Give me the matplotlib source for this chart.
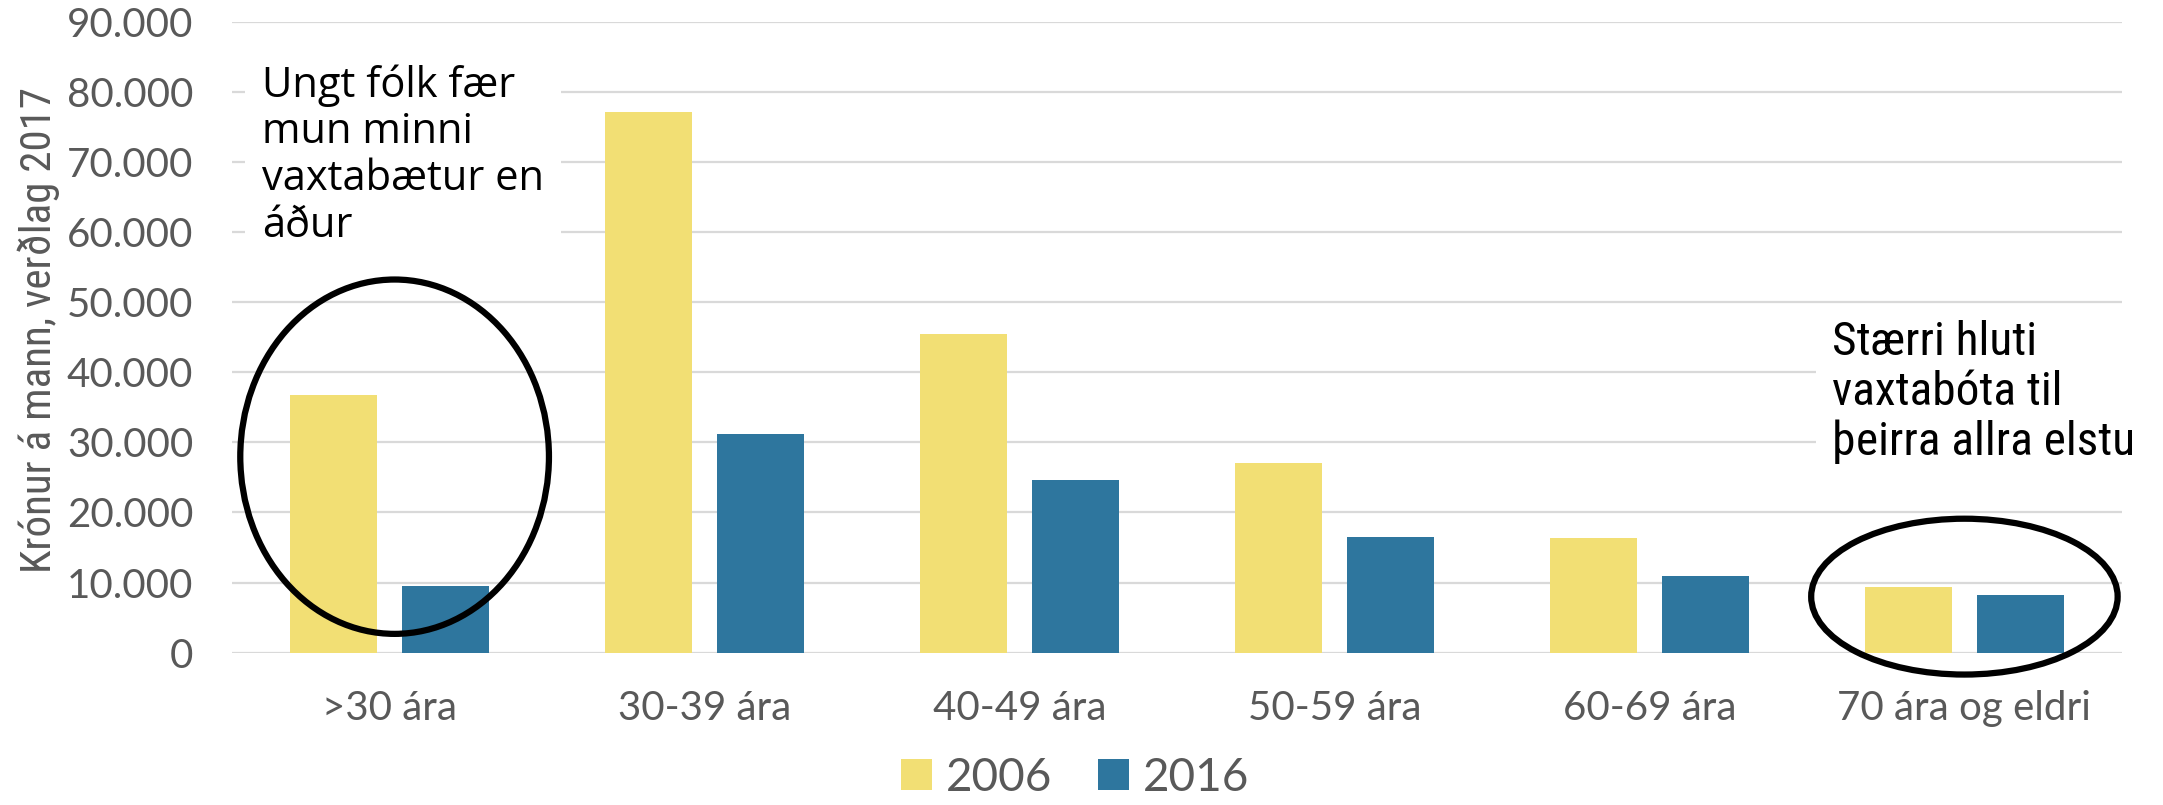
"""
Vaxtabætur eftir aldri, 2006 og 2016 (krónur á mann, verðlag 2017)
"""
import numpy as np
import matplotlib.pyplot as plt
from matplotlib import font_manager
from matplotlib.patches import Ellipse
from matplotlib.ticker import FuncFormatter

# Data
categories = ['>30 ára', '30-39 ára', '40-49 ára', '50-59 ára', '60-69 ára', '70 ára og eldri']
values_2006 = [36800, 77100, 45400, 27100, 16300, 9300]
values_2016 = [9500, 31200, 24600, 16500, 10950, 8200]
series_labels = ['2006', '2016']

YELLOW = '#F2DF74'
BLUE = '#2E769E'
GREY_TEXT = '#595959'
GRID = '#D9D9D9'

installed = {f.name for f in font_manager.fontManager.ttflist}


def pick(*names):
    for n in names:
        if n in installed:
            return n
    return 'DejaVu Sans'


TICK_FONT = pick('Lato', 'Open Sans')
NOTE_FONT = pick('Open Sans', 'Noto Sans')
NARROW_FONT = pick('Liberation Sans Narrow', 'Roboto Condensed', 'Open Sans')

fig = plt.figure(figsize=(21.63, 8.05), dpi=100)
ax = fig.add_axes([0.1073, 0.1893, 0.8737, 0.7834])

x = np.arange(len(categories))
width = 0.276
offset = 0.177
ax.bar(x - offset, values_2006, width, color=YELLOW, label=series_labels[0], zorder=2)
ax.bar(x + offset, values_2016, width, color=BLUE, label=series_labels[1], zorder=2)

ax.set_xlim(-0.5, len(categories) - 0.5)
ax.set_ylim(0, 90000)
ax.set_yticks(np.arange(0, 90001, 10000))
ax.yaxis.set_major_formatter(FuncFormatter(lambda v, p: f'{int(v):,}'.replace(',', '.')))
ax.set_xticks(x)
ax.set_xticklabels(categories)

ax.yaxis.grid(True, color=GRID, linewidth=1.6, zorder=0)
ax.set_axisbelow(True)
for s in ax.spines.values():
    s.set_visible(False)
ax.tick_params(axis='both', length=0, labelsize=29, labelcolor=GREY_TEXT)
ax.tick_params(axis='y', pad=28)
ax.tick_params(axis='x', pad=27)
for lab in ax.get_xticklabels() + ax.get_yticklabels():
    lab.set_family(TICK_FONT)

fig.text(0.018, 0.59, 'Krónur á mann, verðlag 2017', rotation=90, ha='center', va='center',
         fontsize=31, color=GREY_TEXT, family=NARROW_FONT)

# Annotations with white boxes over the gridlines
ax.text(-0.405, 84000, 'Ungt fólk fær\nmun minni\nvaxtabætur en\náður', ha='left', va='top',
        fontsize=30, family=NOTE_FONT, color='black', linespacing=1.15, zorder=3,
        bbox=dict(facecolor='white', edgecolor='none', pad=12))
ax.text(4.58, 47400, 'Stærri hluti\nvaxtabóta til\nþeirra allra elstu', ha='left', va='top',
        fontsize=34, family=NARROW_FONT, color='black', linespacing=1.15, zorder=3,
        bbox=dict(facecolor='white', edgecolor='none', pad=12))

ax.add_patch(Ellipse((0.016, 27960), 0.98, 50570, fill=False, edgecolor='black',
                     linewidth=4.5, zorder=4, clip_on=False))
ax.add_patch(Ellipse((5.0, 7990), 0.973, 22240, fill=False, edgecolor='black',
                     linewidth=4.5, zorder=4, clip_on=False))

leg = fig.legend(loc='center', bbox_to_anchor=(0.497, 0.034), ncol=2, frameon=False,
                 handlelength=0.68, handleheight=0.68, handletextpad=0.3, columnspacing=1.0,
                 borderpad=0.2, prop={'family': TICK_FONT, 'size': 33})
for t in leg.get_texts():
    t.set_color(GREY_TEXT)

plt.savefig('out.png', dpi=100)
